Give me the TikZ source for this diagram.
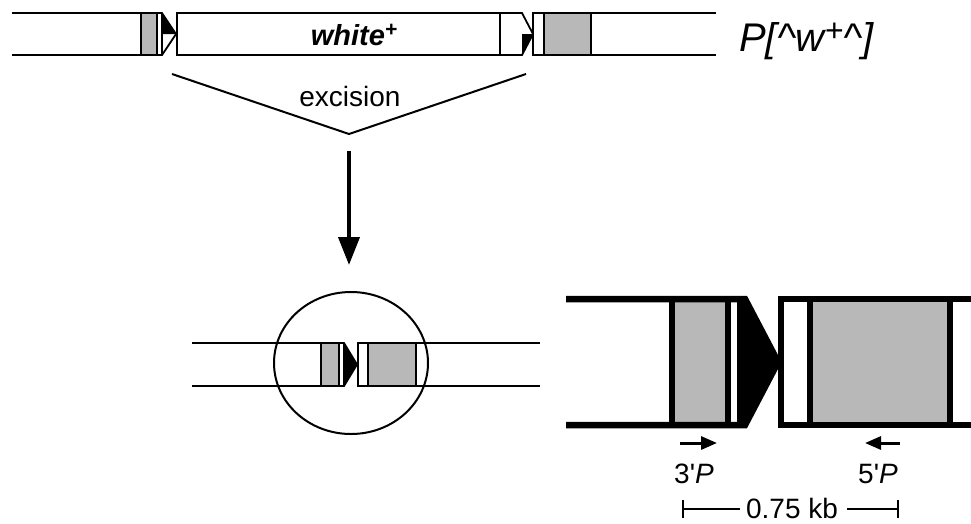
\documentclass[tikz,border=0pt]{standalone}
\usepackage{fontspec}
\setmainfont{Liberation Sans}[Ligatures=TeXOff]
\usetikzlibrary{arrows.meta}
\definecolor{fillgray}{RGB}{184,184,184}
\begin{document}
\begin{tikzpicture}[x=1pt,y=-1pt,
  thin dna/.style={line width=1.8pt, line join=miter},
  thick dna/.style={line width=6.5pt, line join=miter},
  graybox/.style={fill=fillgray},
  lbl/.style={inner sep=0pt, font=\fontsize{28}{30}\selectfont},
  primer/.style={line width=3pt, -{Triangle[length=16pt,width=13pt]}},
  scalebar/.style={line width=2pt},
]
\useasboundingbox (0,0) rectangle (971,523);

% ---------- P element in the chromosome ----------
% left flank with the 3' end of the element
\fill[fillgray] (141,13) rectangle (157,55);
\fill (162,13) -- (176,34) -- (162,34) -- cycle;
\draw[thin dna] (12,13) -- (162,13) -- (176,34) -- (162,55) -- (12,55);
\draw[thin dna] (141,13) -- (141,55) (157,13) -- (157,55) (162,13) -- (162,55);
% white+ body
\fill (522,34) -- (533,34) -- (522,55) -- cycle;
\draw[thin dna] (177,13) -- (522,13) -- (533,34) -- (522,55) -- (177,55) -- cycle;
\draw[thin dna] (500,13) -- (500,55);
\node[anchor=base, inner sep=0pt] (wht) at (354,45)
  {\fontsize{29}{30}\selectfont\bfseries\itshape white\raisebox{9pt}{\fontsize{21}{21}\selectfont +}};
% right flank with the 5' end of the element
\fill[fillgray] (544,13) rectangle (591,55);
\draw[thin dna] (716,13) -- (533,13) -- (533,55) -- (716,55);
\draw[thin dna] (544,13) -- (544,55) (591,13) -- (591,55);
\node[anchor=base west, inner sep=0pt] (plabel) at (739,51)
  {\fontsize{40}{42}\selectfont\itshape P[\textasciicircum w\raisebox{10pt}{\fontsize{32}{32}\selectfont +}\textasciicircum]};

% ---------- excision ----------
\coordinate (vl) at (172,74);
\coordinate (vtip) at (349,134);
\coordinate (vr) at (526,74);
\draw[line width=2pt] (vl) -- (vtip) -- (vr);
\node[lbl, anchor=base] (exc) at (350,106) {excision};
\coordinate (arrtop) at (349,151);
\coordinate (arrbot) at (349,265);
\draw[line width=4pt, -{Triangle[length=28pt,width=21pt]}] (arrtop) -- (arrbot);

% ---------- excision product ----------
\fill[fillgray] (321,343) rectangle (339,386);
\fill (344,343) -- (357,364.5) -- (344,386) -- cycle;
\draw[thin dna] (192,343) -- (344,343) -- (357,364.5) -- (344,386) -- (192,386);
\draw[thin dna] (321,343) -- (321,386) (339,343) -- (339,386) (344,343) -- (344,386);
\fill[fillgray] (368,343) rectangle (416,386);
\draw[thin dna] (540,343) -- (358,343) -- (358,386) -- (540,386);
\draw[thin dna] (368,343) -- (368,386) (416,343) -- (416,386);
\draw[line width=2pt] (351,363) ellipse [x radius=77pt, y radius=71pt];

% ---------- enlarged view ----------
\fill[fillgray] (672,299) rectangle (728,425);
\fill (737,299) -- (745,299) -- (778,362) -- (745,425) -- (737,425) -- cycle;
\draw[thick dna] (566,299) -- (745,299) -- (778,362) -- (745,425) -- (566,425);
\draw[line width=6pt] (672,299) -- (672,425) (728,299) -- (728,425);
\fill[fillgray] (810,299) rectangle (950,425);
\draw[thick dna] (975,299) -- (781,299) -- (781,425) -- (975,425);
\draw[line width=6pt] (810,299) -- (810,425) (950,299) -- (950,425);

% primers
\coordinate (p3a) at (680,443);
\coordinate (p3b) at (717,443);
\coordinate (p5a) at (900,443);
\coordinate (p5b) at (865,443);
\draw[primer] (p3a) -- (p3b);
\draw[primer] (p5a) -- (p5b);
\node[lbl, anchor=base] (p3) at (694,483) {3'\textit{P}};
\node[lbl, anchor=base] (p5) at (878,483) {5'\textit{P}};

% scale bar
\node[lbl, anchor=base] (scale) at (792,518) {0.75 kb};
\coordinate (sbl) at (683,509);
\coordinate (sbr) at (898,509);
\draw[scalebar] (sbl) -- (740,509) (847,509) -- (sbr);
\draw[scalebar] ([yshift=9pt]sbl) -- ([yshift=-9pt]sbl);
\draw[scalebar] ([yshift=9pt]sbr) -- ([yshift=-9pt]sbr);
\end{tikzpicture}
\end{document}
